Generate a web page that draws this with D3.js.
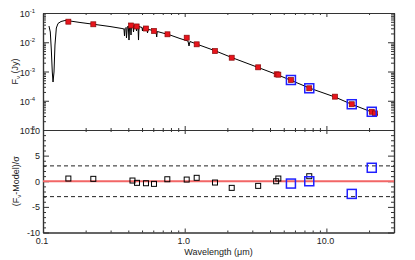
<!DOCTYPE html>
<html lang="en">
<head>
  <meta charset="UTF-8">
  <title>SED fit</title>
  <script src="https://d3js.org/d3.v7.min.js"></script>
  <style>
    body { margin: 0; background: #fff; }
    svg { font-family: "Liberation Sans", Arial, sans-serif; }
    .frame path.domain { stroke: #333; stroke-width: 1.2; }
    .frame line { stroke: #333; stroke-width: 1; }
    .lbl { font-size: 9px; fill: #222; }
  </style>
</head>
<body>
  <div id="chart"></div>
  <script>
    // model spectrum (micron, Jy)
    var modelWave = [0.1102, 0.1126, 0.1145, 0.1163, 0.1177, 0.1196, 0.1215, 0.1242, 0.1276, 0.1340,
      0.1429, 0.1551, 0.1824, 0.2254, 0.2970, 0.3608, 0.3728, 0.3760, 0.3791, 0.3852,
      0.3884, 0.3935, 0.3999, 0.4045, 0.4085, 0.4145, 0.4179, 0.4213, 0.4318, 0.4353,
      0.4389, 0.4533, 0.4570, 0.4608, 0.4683, 0.4721, 0.4760, 0.4997, 0.5038, 0.5079,
      0.5420, 0.5464, 0.5508, 0.6272, 0.6344, 0.6406, 0.7872, 0.9265, 1.0551, 1.0725,
      1.0899, 1.2823, 1.636, 2.146, 3.306, 4.460, 5.627, 7.572, 11.50, 15.09, 20.88, 23.13];
    var modelFlux = [0.0359, 0.0224, 0.00543, 0.000961, 0.000437, 0.000961, 0.00805, 0.0307, 0.0438, 0.0512,
      0.0554, 0.0533, 0.0474, 0.0414, 0.0345, 0.0295, 0.0284, 0.0164, 0.0295, 0.0319,
      0.0140, 0.0332, 0.0359, 0.0119, 0.0359, 0.0374, 0.0177, 0.0374, 0.0374, 0.0224,
      0.0374, 0.0359, 0.0243, 0.0359, 0.0345, 0.0119, 0.0345, 0.0319, 0.0243, 0.0319,
      0.0284, 0.0207, 0.0277, 0.0237, 0.0151, 0.0233, 0.0177, 0.0134, 0.0110, 0.00744,
      0.0106, 0.00787, 0.00514, 0.00301, 0.00137, 0.000790, 0.000500, 0.000273, 0.000134, 7.56e-5, 4.12e-5, 3.39e-5];

    // model photometry (red)
    var photWave = [0.151, 0.2265, 0.418, 0.458, 0.533, 0.607, 0.756, 1.033, 1.215, 1.636,
      2.147, 3.30, 4.46, 4.58, 5.62, 7.57, 11.5, 15.1, 20.9, 22.0];
    var photFlux = [0.0505, 0.0411, 0.0374, 0.0347, 0.0295, 0.0243, 0.0187, 0.0143, 0.0085, 0.00501,
      0.00296, 0.00139, 0.000802, 0.00078, 0.000512, 0.000267, 0.000138, 7.6e-5, 4.2e-5, 3.7e-5];

    // residuals (black)
    var residWave = [0.151, 0.2265, 0.428, 0.4608, 0.533, 0.607, 0.754, 1.033, 1.215, 1.636,
      2.147, 3.30, 4.42, 4.58, 7.57];
    var resid = [0.53, 0.47, 0.14, -0.31, -0.39, -0.51, 0.39, 0.33, 0.67, -0.25,
      -1.29, -0.90, 0.0, 0.53, 0.98];

    // blue points
    var blueWave = [5.62, 7.57, 15.1, 20.9];
    var blueFlux = [0.000512, 0.000267, 7.6e-5, 4.2e-5];
    var blueResid = [-0.45, 0.0, -2.47, 2.63];

    var xMajor = [0.1, 1, 10];
    var xLabels = ["0.1", "1.0", "10.0"];
    var yTopMajor = [1e-5, 1e-4, 1e-3, 1e-2, 1e-1];
    var yTopLabels = ["-5", "-4", "-3", "-2", "-1"];
    var yBotMajor = [-10, -5, 0, 5, 10];

    var W = 415, H = 260;
    var pLeft = 43, pRight = 394, pTop = 13, pMid = 130, pBottom = 232.5;

    var svg = d3.select("#chart").append("svg")
      .attr("width", W).attr("height", H);

    var x = d3.scaleLog().domain([0.1, 30]).range([pLeft, pRight]);
    var yTop = d3.scaleLog().domain([1e-5, 1e-1]).range([pMid, pTop]);
    var yBot = d3.scaleLinear().domain([-10, 10]).range([pBottom, pMid]);

    var xMinor = [];
    [0.1, 1, 10].forEach(function (d) {
      for (var k = 2; k <= 9; k++) if (d * k <= 30) xMinor.push(d * k);
    });
    var yTopMinor = [];
    [1e-5, 1e-4, 1e-3, 1e-2].forEach(function (d) {
      for (var k = 2; k <= 9; k++) yTopMinor.push(d * k);
    });
    var yBotMinor = d3.range(-10, 11).filter(function (d) { return d % 5 !== 0; });

    function ax(gen, tx, ty) {
      svg.append("g").attr("class", "frame")
        .attr("transform", "translate(" + tx + "," + ty + ")")
        .call(gen.tickSizeOuter(0).tickFormat(""));
    }

    // x ticks on the three horizontal edges
    ax(d3.axisTop(x).tickValues(xMinor).tickSize(-2), 0, pTop);
    ax(d3.axisTop(x).tickValues(xMajor).tickSize(-4), 0, pTop);
    ax(d3.axisBottom(x).tickValues(xMinor).tickSize(-2), 0, pMid);
    ax(d3.axisBottom(x).tickValues(xMajor).tickSize(-4), 0, pMid);
    ax(d3.axisTop(x).tickValues(xMinor).tickSize(-2), 0, pMid);
    ax(d3.axisTop(x).tickValues(xMajor).tickSize(-4), 0, pMid);
    ax(d3.axisBottom(x).tickValues(xMinor).tickSize(-2), 0, pBottom);
    ax(d3.axisBottom(x).tickValues(xMajor).tickSize(-4), 0, pBottom);

    // y ticks top panel
    ax(d3.axisLeft(yTop).tickValues(yTopMinor).tickSize(-3), pLeft, 0);
    ax(d3.axisLeft(yTop).tickValues(yTopMajor).tickSize(-6), pLeft, 0);
    ax(d3.axisRight(yTop).tickValues(yTopMinor).tickSize(-3), pRight, 0);
    ax(d3.axisRight(yTop).tickValues(yTopMajor).tickSize(-6), pRight, 0);

    // y ticks bottom panel
    ax(d3.axisLeft(yBot).tickValues(yBotMinor).tickSize(-3), pLeft, 0);
    ax(d3.axisLeft(yBot).tickValues(yBotMajor).tickSize(-6), pLeft, 0);
    ax(d3.axisRight(yBot).tickValues(yBotMinor).tickSize(-3), pRight, 0);
    ax(d3.axisRight(yBot).tickValues(yBotMajor).tickSize(-6), pRight, 0);

    // tick labels
    yTopMajor.forEach(function (d, i) {
      var t = svg.append("text").attr("class", "lbl")
        .attr("x", pLeft - 8).attr("y", yTop(d) + 4)
        .attr("text-anchor", "end");
      t.append("tspan").text("10");
      t.append("tspan").attr("dy", -4).style("font-size", "6px").text(yTopLabels[i]);
    });
    yBotMajor.forEach(function (d) {
      svg.append("text").attr("class", "lbl")
        .attr("x", pLeft - 3).attr("y", yBot(d) + 3.5)
        .attr("text-anchor", "end").text(d);
    });
    xMajor.forEach(function (d, i) {
      svg.append("text").attr("class", "lbl")
        .attr("x", x(d) - 1).attr("y", pBottom + 11.5)
        .attr("text-anchor", "middle").text(xLabels[i]);
    });

    // axis titles
    svg.append("text").attr("class", "lbl")
      .attr("x", (pLeft + pRight) / 2).attr("y", 255)
      .attr("text-anchor", "middle").text("Wavelength (\u03bcm)");

    var t1 = svg.append("text").attr("class", "lbl")
      .attr("transform", "translate(17.5," + (pTop + pMid) / 2 + ") rotate(-90)")
      .attr("text-anchor", "middle");
    t1.append("tspan").text("F");
    t1.append("tspan").attr("dy", 2).style("font-size", "6px").text("\u03bd");
    t1.append("tspan").attr("dy", -2).text(" (Jy)");

    var t2 = svg.append("text").attr("class", "lbl")
      .attr("transform", "translate(19," + yBot(0) + ") rotate(-90)")
      .attr("text-anchor", "middle");
    t2.append("tspan").text("(F");
    t2.append("tspan").attr("dy", 2).style("font-size", "6px").text("\u03bd");
    t2.append("tspan").attr("dy", -2).text("-Model)/\u03c3");

    // model spectrum
    var model = modelWave.map(function (d, i) { return [d, modelFlux[i]]; });
    svg.append("path").datum(model)
      .attr("fill", "none").attr("stroke", "#000").attr("stroke-width", 1)
      .attr("d", d3.line().x(function (d) { return x(d[0]); }).y(function (d) { return yTop(d[1]); }));

    var s = 5;
    svg.selectAll(".phot").data(photWave).enter().append("rect")
      .attr("x", function (d) { return x(d) - s / 2; })
      .attr("y", function (d, i) { return yTop(photFlux[i]) - s / 2; })
      .attr("width", s).attr("height", s)
      .attr("fill", "#e8141c").attr("stroke", "#8a0a0a").attr("stroke-width", 0.7);

    var b = 9;
    svg.selectAll(".blueT").data(blueWave).enter().append("rect")
      .attr("x", function (d) { return x(d) - b / 2; })
      .attr("y", function (d, i) { return yTop(blueFlux[i]) - b / 2; })
      .attr("width", b).attr("height", b)
      .attr("fill", "none").attr("stroke", "#2020ff").attr("stroke-width", 1.5);

    // residual panel
    svg.append("line")
      .attr("x1", pLeft).attr("x2", pRight).attr("y1", yBot(0)).attr("y2", yBot(0))
      .attr("stroke", "#f26666").attr("stroke-width", 1.8);
    [3, -3].forEach(function (d) {
      svg.append("line")
        .attr("x1", pLeft).attr("x2", pRight).attr("y1", yBot(d)).attr("y2", yBot(d))
        .attr("stroke", "#222").attr("stroke-width", 1).attr("stroke-dasharray", "4,3");
    });

    svg.selectAll(".res").data(residWave).enter().append("rect")
      .attr("x", function (d) { return x(d) - s / 2; })
      .attr("y", function (d, i) { return yBot(resid[i]) - s / 2; })
      .attr("width", s).attr("height", s)
      .attr("fill", "none").attr("stroke", "#000").attr("stroke-width", 1);

    svg.selectAll(".blueB").data(blueWave).enter().append("rect")
      .attr("x", function (d) { return x(d) - b / 2; })
      .attr("y", function (d, i) { return yBot(blueResid[i]) - b / 2; })
      .attr("width", b).attr("height", b)
      .attr("fill", "none").attr("stroke", "#2020ff").attr("stroke-width", 1.5);
  </script>
</body>
</html>
